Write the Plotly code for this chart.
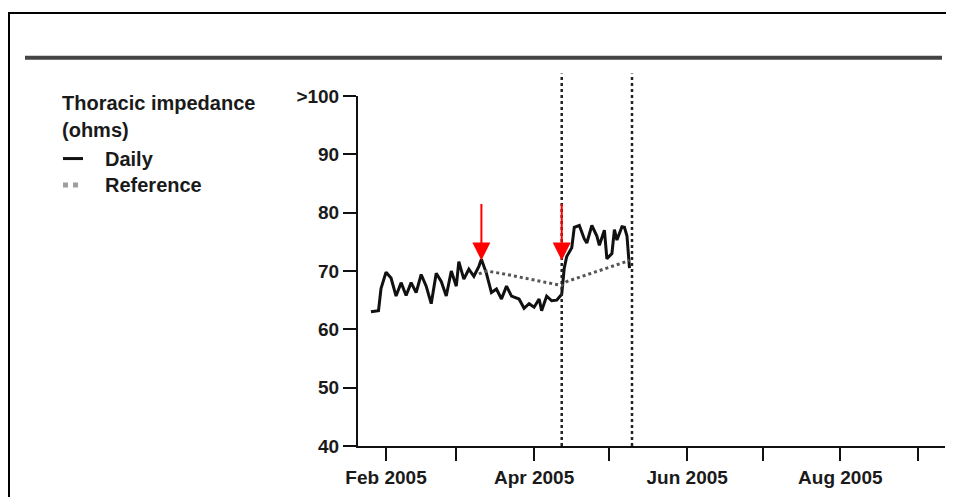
import plotly.graph_objects as go

# ---- data ----
daily_dates = [
    "2005-01-26", "2005-01-29", "2005-01-30", "2005-02-01", "2005-02-03", "2005-02-05",
    "2005-02-07", "2005-02-09", "2005-02-11", "2005-02-13", "2005-02-15", "2005-02-17",
    "2005-02-19", "2005-02-21", "2005-02-23", "2005-02-25", "2005-02-27", "2005-03-01",
    "2005-03-02", "2005-03-04", "2005-03-06", "2005-03-08", "2005-03-10", "2005-03-11",
    "2005-03-13", "2005-03-15", "2005-03-17", "2005-03-19", "2005-03-21", "2005-03-23",
    "2005-03-26", "2005-03-28", "2005-03-30", "2005-04-01", "2005-04-03", "2005-04-04",
    "2005-04-06", "2005-04-08", "2005-04-10", "2005-04-12", "2005-04-13", "2005-04-14",
    "2005-04-16", "2005-04-17", "2005-04-19", "2005-04-21", "2005-04-22", "2005-04-24",
    "2005-04-26", "2005-04-27", "2005-04-29", "2005-04-30", "2005-05-02", "2005-05-03",
    "2005-05-04", "2005-05-06", "2005-05-07", "2005-05-08", "2005-05-09",
]
daily_values = [
    63.0, 63.2, 67.0, 69.8, 68.8, 65.7,
    68.0, 65.8, 68.0, 66.3, 69.4, 67.4,
    64.4, 69.6, 68.2, 65.7, 70.0, 67.4,
    71.6, 68.6, 70.3, 69.1, 70.8, 72.0,
    69.6, 66.3, 66.9, 65.2, 67.4, 65.7,
    65.2, 63.6, 64.4, 63.8, 65.2, 63.2,
    65.7, 64.9, 65.0, 66.0, 70.5, 72.5,
    74.0, 77.5, 77.8, 75.5, 74.8, 77.8,
    76.0, 74.4, 77.0, 72.1, 73.0, 77.1,
    75.3, 77.6, 77.5, 76.0, 70.5,
]

reference_dates = [
    "2005-03-10", "2005-03-13", "2005-03-20", "2005-03-27", "2005-04-03", "2005-04-11",
    "2005-04-12", "2005-04-14", "2005-04-21", "2005-04-28", "2005-05-05", "2005-05-09",
]
reference_values = [
    69.5, 70.0, 69.5, 68.9, 68.4, 67.6,
    67.5, 68.2, 69.2, 70.2, 71.2, 71.8,
]

event_arrow_dates = ["2005-03-11", "2005-04-12"]
event_arrow_values = [71.8, 71.8]

marker_line_dates = ["2005-04-12", "2005-05-10"]

y_tick_values = [40, 50, 60, 70, 80, 90, 100]
y_tick_labels = ["40", "50", "60", "70", "80", "90", ">100"]

x_tick_values = ["2005-02-01", "2005-03-01", "2005-04-01", "2005-05-01",
                 "2005-06-01", "2005-07-01", "2005-08-01", "2005-09-01"]
x_tick_labels = ["Feb 2005", "", "Apr 2005", "", "Jun 2005", "", "Aug 2005", ""]

x_range = ["2005-01-20 20:00", "2005-09-11 17:00"]
y_range = [40, 100]

legend_title_lines = ["Thoracic impedance", "(ohms)"]
legend_names = ["Daily", "Reference"]

# ---- figure geometry (page has an 8px body margin) ----
OFF = 8
W, H = 946, 489
ML, MR, MT, MB = 350, 9, 88, 43
PW, PH = W - ML - MR, H - MT - MB


def px_x(p):
    """page x pixel -> paper coordinate"""
    return (p - OFF - ML) / PW


def px_y(p):
    """page y pixel -> paper coordinate"""
    return (H - MB - (p - OFF)) / PH


FONT = "Arial, Liberation Sans, sans-serif"
TXT = "#1a1a1a"

fig = go.Figure()
fig.add_trace(go.Scatter(
    x=daily_dates, y=daily_values, mode="lines", name=legend_names[0],
    line=dict(color="#111111", width=3), showlegend=False,
))
fig.add_trace(go.Scatter(
    x=reference_dates, y=reference_values, mode="lines", name=legend_names[1],
    line=dict(color="#555555", width=3, dash="dot"), showlegend=False,
))

shapes = []
for d in marker_line_dates:
    shapes.append(dict(type="line", xref="x", yref="paper", x0=d, x1=d,
                       y0=0, y1=px_y(73), line=dict(color="#222222", width=2.5, dash="dot"),
                       layer="above"))
# header rule and outer frame
shapes.append(dict(type="line", xref="paper", yref="paper",
                   x0=px_x(25), x1=px_x(942), y0=px_y(57), y1=px_y(57),
                   line=dict(color="#444444", width=4)))
shapes.append(dict(type="rect", xref="paper", yref="paper",
                   x0=px_x(9), x1=px_x(1010), y0=px_y(560), y1=px_y(11),
                   line=dict(color="#000000", width=2), fillcolor="rgba(0,0,0,0)"))
# legend symbols
shapes.append(dict(type="line", xref="paper", yref="paper",
                   x0=px_x(63), x1=px_x(83), y0=px_y(160), y1=px_y(160),
                   line=dict(color="#111111", width=3)))
shapes.append(dict(type="line", xref="paper", yref="paper",
                   x0=px_x(63), x1=px_x(83), y0=px_y(187), y1=px_y(187),
                   line=dict(color="#9e9e9e", width=5, dash="dot")))

annotations = []
for d, v in zip(event_arrow_dates, event_arrow_values):
    annotations.append(dict(x=d, y=v, xref="x", yref="y", text="", showarrow=True,
                            ax=0, ay=-58, arrowcolor="#ff0000", arrowwidth=2,
                            arrowhead=2, arrowsize=1.8))

LEG_FONT = dict(family=FONT, size=20, color=TXT, weight="bold")
for txt, yy in zip(legend_title_lines, [103, 131]):
    annotations.append(dict(x=px_x(60), y=px_y(yy), xref="paper", yref="paper",
                            xanchor="left", yanchor="middle", text=txt,
                            showarrow=False, font=LEG_FONT))
for txt, yy in zip(legend_names, [160, 187]):
    annotations.append(dict(x=px_x(103), y=px_y(yy), xref="paper", yref="paper",
                            xanchor="left", yanchor="middle", text=txt,
                            showarrow=False, font=LEG_FONT))

TICK_FONT = dict(family=FONT, size=19, color=TXT, weight="bold")
fig.update_layout(
    width=W, height=H,
    margin=dict(l=ML, r=MR, t=MT, b=MB),
    paper_bgcolor="white", plot_bgcolor="white",
    font=dict(family=FONT, size=17, color=TXT),
    showlegend=False,
    xaxis=dict(
        type="date", range=x_range, tickvals=x_tick_values, ticktext=x_tick_labels,
        showgrid=False, zeroline=False, showline=True, linecolor="#111111", linewidth=2,
        ticks="outside", ticklen=13, tickwidth=2, tickcolor="#111111",
        tickfont=TICK_FONT,
    ),
    yaxis=dict(
        range=y_range, tickvals=y_tick_values, ticktext=y_tick_labels,
        showgrid=False, zeroline=False, showline=True, linecolor="#111111", linewidth=2,
        ticks="outside", ticklen=13, tickwidth=2, tickcolor="#111111",
        tickfont=TICK_FONT,
    ),
    shapes=shapes,
    annotations=annotations,
)

fig.write_html("out.html")
